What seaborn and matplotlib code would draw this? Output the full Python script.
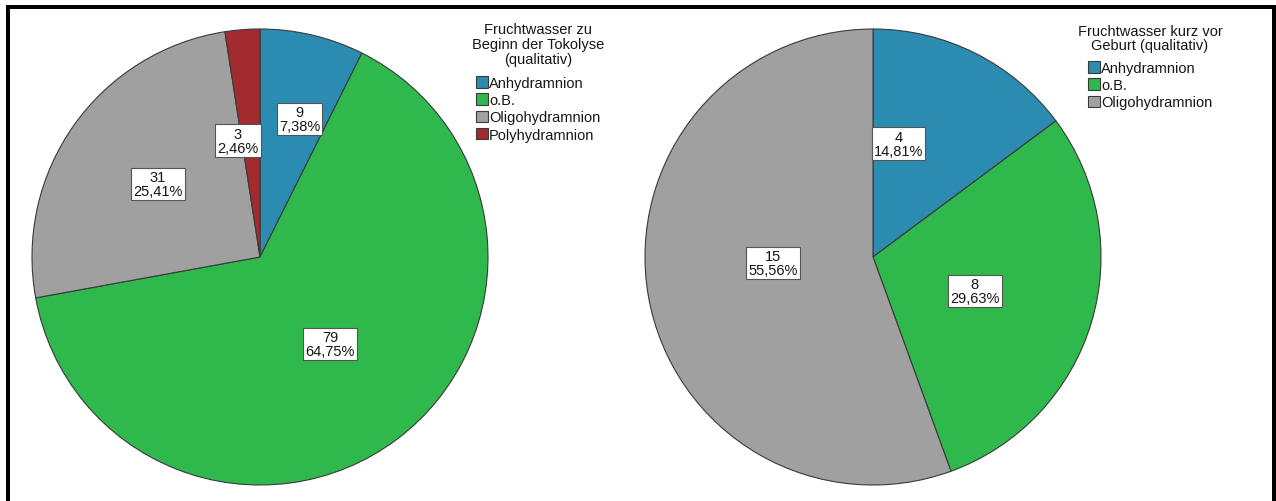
import numpy as np
import matplotlib.pyplot as plt
import seaborn as sns
from matplotlib.lines import Line2D

# data
cats_left = ['Anhydramnion', 'o.B.', 'Oligohydramnion', 'Polyhydramnion']
counts_left = [9, 79, 31, 3]
title_left = 'Fruchtwasser zu\nBeginn der Tokolyse\n(qualitativ)'

cats_right = ['Anhydramnion', 'o.B.', 'Oligohydramnion']
counts_right = [4, 8, 15]
title_right = 'Fruchtwasser kurz vor\nGeburt (qualitativ)'

colors = {'Anhydramnion': '#2b8bb0', 'o.B.': '#2fb84b',
          'Oligohydramnion': '#a0a0a0', 'Polyhydramnion': '#a32a2e'}

# label placement tweaks (radius fraction, angle shift in degrees)
lab_r_left = [0.63, 0.49, 0.55, 0.52]
lab_shift_left = [-2.7, 2.0, -0.2, 6.3]
lab_r_right = [0.51, 0.47, 0.44]
lab_shift_right = [14.0, -1.7, -6.6]

sns.set_theme(style='white')
plt.rcParams['font.family'] = ['Liberation Sans', 'DejaVu Sans']
TXT = '#161616'
FS = 10.5

W, H = 1276, 502
fig = plt.figure(figsize=(W / 100, H / 100), dpi=100)
fig.patch.set_facecolor('white')


def draw_pie(cx, cy, r, cats, counts, lab_r, lab_shift, title, leg_x, title_y, leg_y):
    ax = fig.add_axes([(cx - r) / W, (H - cy - r) / H, 2 * r / W, 2 * r / H])
    wedges, _ = ax.pie(counts, colors=[colors[c] for c in cats], startangle=90,
                       counterclock=False, radius=1,
                       wedgeprops=dict(edgecolor='#3a3a3a', linewidth=0.8))
    total = sum(counts)
    for w, n, rr, sh in zip(wedges, counts, lab_r, lab_shift):
        th = np.deg2rad((w.theta1 + w.theta2) / 2 + sh)
        pct = f'{100 * n / total:.2f}'.replace('.', ',') + '%'
        ax.text(rr * np.cos(th), rr * np.sin(th), f'{n}\n{pct}', ha='center', va='center',
                fontsize=FS, color=TXT, linespacing=1.0,
                bbox=dict(boxstyle='square,pad=0.15', facecolor='white',
                          edgecolor='#555555', linewidth=0.8))
    ax.set_xlim(-1, 1)
    ax.set_ylim(-1, 1)
    ax.set_aspect('equal')
    ax.axis('off')

    fig.text(leg_x / W, 1 - title_y / H, title, ha='center', va='center', multialignment='center',
             fontsize=FS, color=TXT, linespacing=1.05)
    leg = ax.legend(wedges, cats, loc='upper center',
                    bbox_to_anchor=(leg_x / W, 1 - leg_y / H), bbox_transform=fig.transFigure,
                    frameon=False, fontsize=FS, borderpad=0, borderaxespad=0,
                    handlelength=0.85, handleheight=0.85, handletextpad=0.05, labelspacing=0.22)
    for t in leg.get_texts():
        t.set_color(TXT)
    return ax


draw_pie(260, 258, 228, cats_left, counts_left, lab_r_left, lab_shift_left, title_left, 538, 45, 77)
draw_pie(873, 258, 228, cats_right, counts_right, lab_r_right, lab_shift_right, title_right, 1150, 39, 62)

# black frame (left, top, right)
lw = 4 * 72 / 100
for xs, ys in [([8, 8], [0, 7.5]), ([8, 1274], [7.5, 7.5]), ([1274, 1274], [7.5, 0])]:
    fig.add_artist(Line2D([x / W for x in xs], [1 - y / H if y else 0 for y in ys],
                          color='black', linewidth=lw, transform=fig.transFigure,
                          solid_capstyle='projecting'))

fig.savefig('out.png', dpi=100)
